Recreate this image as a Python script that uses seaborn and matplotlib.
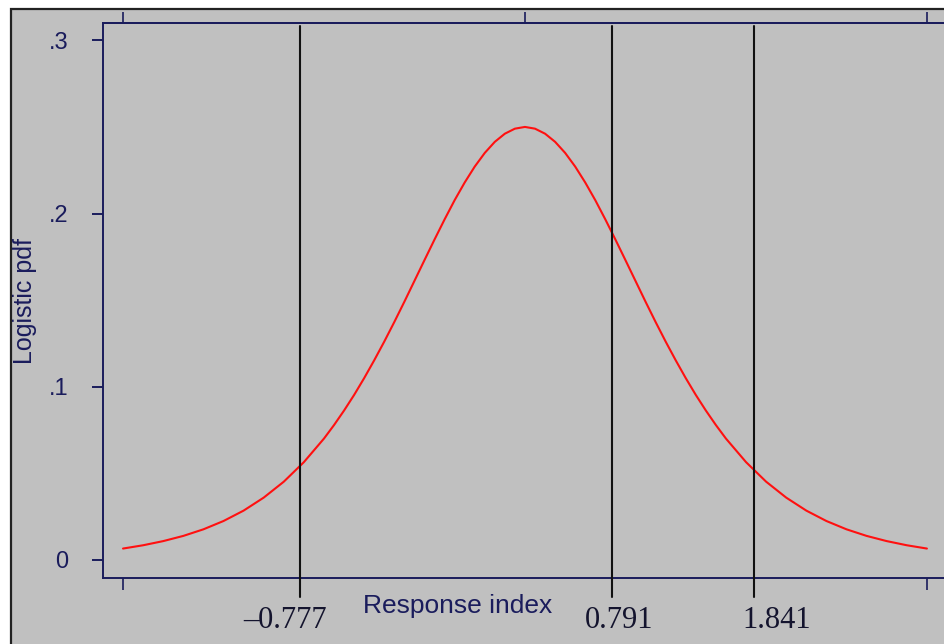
#LOGISTIC PDF WITH CUTPOINTS

import matplotlib
matplotlib.use('Agg')
import matplotlib.pyplot as plt
from matplotlib.patches import Rectangle
import seaborn as sns
import pandas as pd

#1.Data: response index vs logistic pdf
x_vals=[-5.0,-4.75,-4.5,-4.25,-4.0,-3.75,-3.5,-3.25,-3.0,-2.75,-2.5,-2.375,-2.25,-2.125,-2.0,
        -1.875,-1.75,-1.625,-1.5,-1.375,-1.25,-1.125,-1.0,-0.875,-0.75,-0.625,-0.5,-0.375,
        -0.25,-0.125,0.0,0.125,0.25,0.375,0.5,0.625,0.75,0.875,1.0,1.125,1.25,1.375,1.5,
        1.625,1.75,1.875,2.0,2.125,2.25,2.375,2.5,2.75,3.0,3.25,3.5,3.75,4.0,4.25,4.5,4.75,5.0]
pdf_vals=[0.0066,0.0085,0.0109,0.0139,0.0177,0.0225,0.0285,0.0360,0.0452,0.0565,0.0701,0.0779,
          0.0863,0.0953,0.1050,0.1153,0.1261,0.1374,0.1491,0.1611,0.1731,0.1850,0.1966,0.2077,
          0.2179,0.2271,0.2350,0.2414,0.2461,0.2490,0.2500,0.2490,0.2461,0.2414,0.2350,0.2271,
          0.2179,0.2077,0.1966,0.1850,0.1731,0.1611,0.1491,0.1374,0.1261,0.1153,0.1050,0.0953,
          0.0863,0.0779,0.0701,0.0565,0.0452,0.0360,0.0285,0.0225,0.0177,0.0139,0.0109,0.0085,
          0.0066]
cut_pos=[-2.80,1.08,2.85]
cut_labels=['\u20130.777','0.791','1.841']
y_ticks=[0,0.1,0.2,0.3]
y_ticklabels=['0','.1','.2','.3']
top_ticks=[-5,0,5]
bottom_ticks=[-5,5]

df=pd.DataFrame({'x':x_vals,'pdf':pdf_vals})

#2.Style
sns.set_theme(style='ticks')
plt.rcParams['font.family']=['Liberation Sans','DejaVu Sans']
gray='#c0c0c0'
navy='#1a1c5c'

fig=plt.figure(figsize=(9.45,6.44),dpi=100,facecolor='white')
W,H=945,644
#outer gray panel with dark border
fig.patches.append(Rectangle((10.5/W,-0.05),1.2,(H-8.5)/H+0.05,transform=fig.transFigure,
                             facecolor=gray,edgecolor='#222222',linewidth=1.6,zorder=-5))

ax=fig.add_axes([103/W,(H-578)/H,(947-103)/W,(578-23)/H])
ax.set_facecolor(gray)

#3.Curve
sns.lineplot(data=df,x='x',y='pdf',color='#ff1010',linewidth=1.5,ax=ax)

#cut lines reaching below the axis
for p in cut_pos:
    ax.axvline(p,ymin=-19/555,ymax=0.995,color='#111111',linewidth=1.5,clip_on=False,zorder=3)

ax.set_xlim(-5.249,5.25)
ax.set_ylim(-0.0104,0.310)

#axes styling
for s in ['left','bottom','top']:
    ax.spines[s].set_color(navy)
    ax.spines[s].set_linewidth(1.4)
ax.spines['right'].set_visible(False)

ax.set_yticks(y_ticks)
ax.set_yticklabels(y_ticklabels)
ax.tick_params(axis='y',direction='out',length=8,width=1.4,color=navy,labelcolor=navy,
               labelsize=17,pad=17)
ax.set_xticks(bottom_ticks)
ax.set_xticklabels([])
ax.tick_params(axis='x',direction='out',length=8.5,width=1.2,color=navy)

secax=ax.secondary_xaxis('top')
secax.set_xticks(top_ticks)
secax.set_xticklabels([])
secax.tick_params(direction='out',length=8,width=1.2,color=navy)
secax.spines['top'].set_color(navy)
secax.spines['top'].set_linewidth(1.4)

ax.set_xlabel('')
ax.set_ylabel('')

#cut labels
offsets=[-15,7,23]
for p,lab,dx in zip(cut_pos,cut_labels,offsets):
    ax.annotate(lab,xy=(p,0),xycoords=('data','axes fraction'),xytext=(dx,-50),
                textcoords='offset pixels',ha='center',va='baseline',fontsize=22,
                family=['Liberation Serif','DejaVu Serif'],color='#14142e')

fig.text(458/W,1-613/H,'Response index',ha='center',va='baseline',fontsize=19,color=navy)
fig.text(25/W,1-301/H,'Logistic pdf',rotation=90,ha='center',va='center',fontsize=18,color=navy)

plt.savefig('out.png',dpi=100,facecolor='white')
